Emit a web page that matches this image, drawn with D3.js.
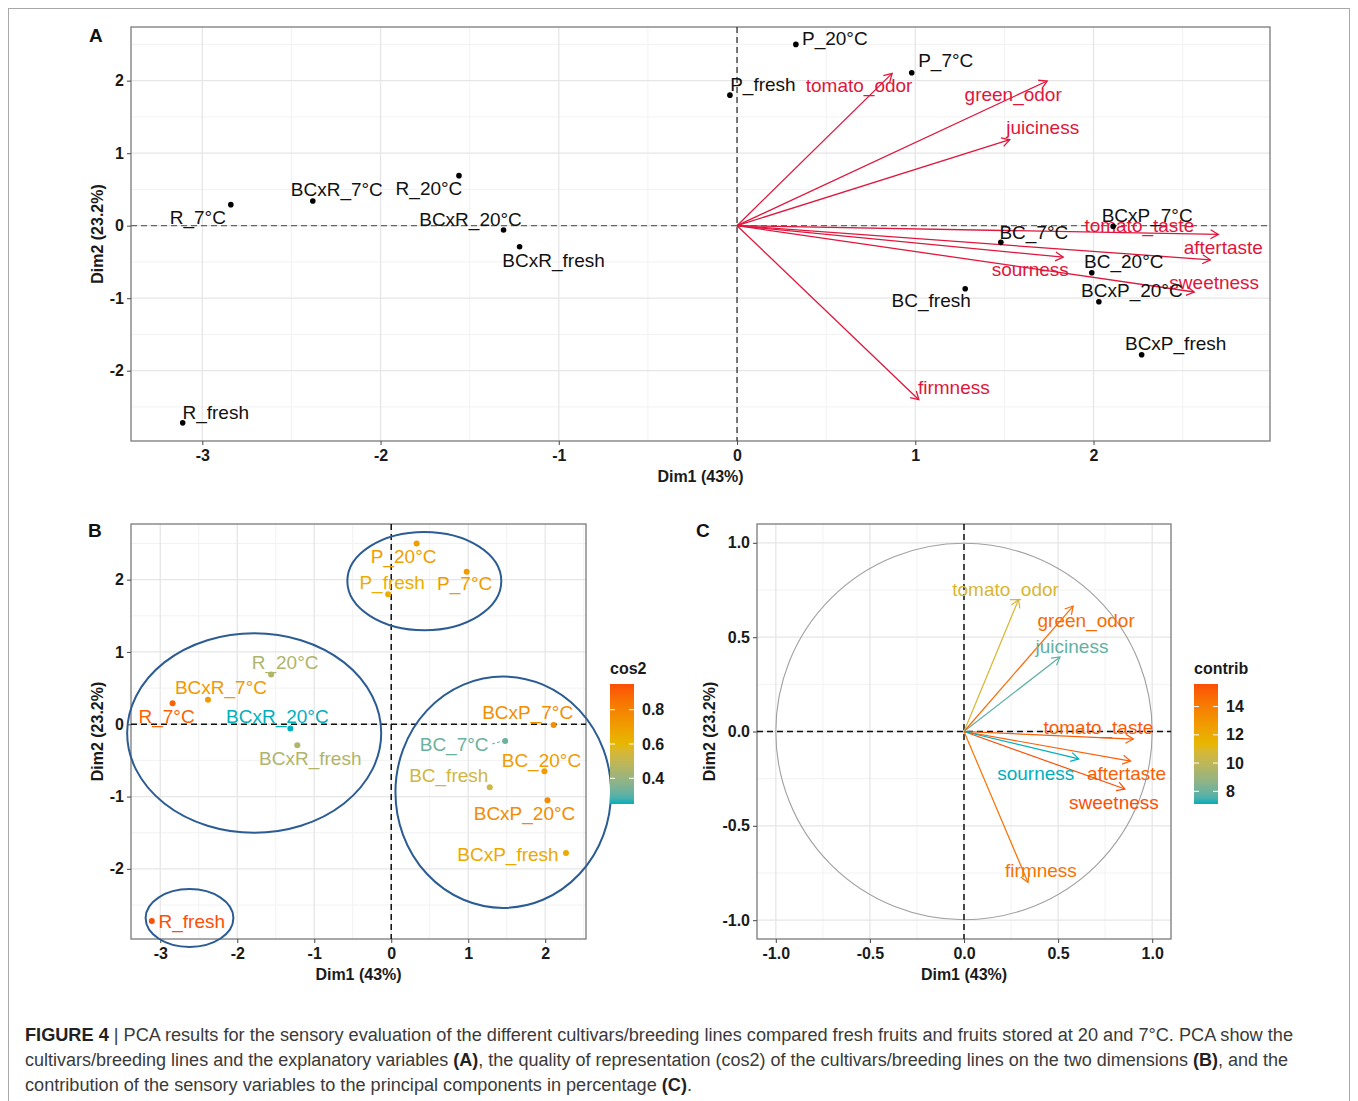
<!DOCTYPE html>
<html><head><meta charset="utf-8">
<script src="https://cdn.jsdelivr.net/npm/d3@7"></script>
<style>
body{margin:0;background:#fff;}
text{font-family:"Liberation Sans",Arial,Helvetica,sans-serif;}
</style>
</head><body>
<svg id="fig" width="1358" height="1101"></svg>
<script>
// ---------------- DATA ----------------
const individuals = ["R_fresh","R_7°C","BCxR_7°C","R_20°C","BCxR_20°C","BCxR_fresh","P_fresh","P_20°C","P_7°C","BC_7°C","BC_fresh","BC_20°C","BCxP_7°C","BCxP_20°C","BCxP_fresh"];
const indDim1 = [-3.11,-2.84,-2.38,-1.56,-1.31,-1.22,-0.04,0.33,0.98,1.48,1.28,1.99,2.11,2.03,2.27];
const indDim2 = [-2.72,0.29,0.34,0.69,-0.06,-0.29,1.80,2.50,2.11,-0.23,-0.87,-0.65,-0.01,-1.05,-1.78];
const indCos2 = [0.95,0.90,0.72,0.45,0.25,0.45,0.64,0.70,0.71,0.32,0.53,0.71,0.76,0.77,0.66];

const variables = ["tomato_odor","green_odor","juiciness","tomato_taste","aftertaste","sweetness","sourness","firmness"];
const varDim1 = [0.29,0.58,0.51,0.90,0.885,0.855,0.61,0.34];
const varDim2 = [0.70,0.665,0.395,-0.04,-0.157,-0.305,-0.145,-0.80];
const varContrib = [10.8,14.7,7.8,15.2,15.1,15.6,7.1,14.4];
const biplotArrowScale = 3.0;

// hand-drawn group ellipses (panel B), in data units
const ellipseCx = [0.43,-1.78,1.455,-2.62];
const ellipseCy = [1.98,-0.12,-0.94,-2.68];
const ellipseRx = [1.00,1.65,1.40,0.57];
const ellipseRy = [0.68,1.38,1.60,0.40];

const ticksIndX = [-3,-2,-1,0,1,2];
const ticksIndY = [-2,-1,0,1,2];
const ticksVar = [-1,-0.5,0,0.5,1];
const ticksCos2 = [0.4,0.6,0.8];
const ticksContrib = [8,10,12,14];
const gradientColors = ["#00AFBB","#E7B800","#FC4E07"];

const axisX = "Dim1 (43%)";
const axisY = "Dim2 (23.2%)";

// ---------------- LAYOUT ----------------
const svg = d3.select("#fig");
svg.append("rect").attr("x",8.5).attr("y",8.5).attr("width",1341).attr("height",1110)
  .attr("fill","none").attr("stroke","#a8a8a8").attr("stroke-width",1);

const hy = f => (d => f(d).replace("\u2212","-"));
const panelA = {x0:131,x1:1270,y0:27,y1:441,xdom:[-3.40,2.99],ydom:[-2.97,2.74],xt:ticksIndX,yt:ticksIndY,fmt:hy(d3.format("d")),minorStep:0.5};
const panelB = {x0:131,x1:586,y0:524,y1:939,xdom:[-3.38,2.53],ydom:[-2.97,2.77],xt:ticksIndX,yt:ticksIndY,fmt:hy(d3.format("d")),minorStep:0.5};
const panelC = {x0:757,x1:1171,y0:524,y1:939,xdom:[-1.1,1.1],ydom:[-1.1,1.1],xt:ticksVar,yt:ticksVar,fmt:hy(d3.format(".1f")),minorStep:0.25};

// label offsets (px, centre of text relative to mark)
const labA = {"R_fresh":[33,-11],"R_7°C":[-33,13],"BCxR_7°C":[24,-12],"R_20°C":[-30,13],"BCxR_20°C":[-33,-11],"BCxR_fresh":[34,14],
 "P_fresh":[33,-11],"P_20°C":[39,-6],"P_7°C":[34,-12],"BC_7°C":[33,-10],"BC_fresh":[-34,12],"BC_20°C":[32,-11],"BCxP_7°C":[34,-11],"BCxP_20°C":[33,-11],"BCxP_fresh":[34,-11]};
const labAvar = {"tomato_odor":[-33,12],"green_odor":[-34,13],"juiciness":[33,-12],"tomato_taste":[-79,-9],"aftertaste":[13,-12],"sweetness":[20,-10],"sourness":[-33,12],"firmness":[35,-12]};
const labB = {"R_fresh":[40,0],"R_7°C":[-6,13],"BCxR_7°C":[13,-12],"R_20°C":[14,-12],"BCxR_20°C":[-13,-12],"BCxR_fresh":[13,13],
 "P_fresh":[4,-12],"P_20°C":[-13,13],"P_7°C":[-2,12],"BC_7°C":[-51,3],"BC_fresh":[-41,-12],"BC_20°C":[-3,-11],"BCxP_7°C":[-26,-13],"BCxP_20°C":[-23,13],"BCxP_fresh":[-58,1]};
const labC = {"tomato_odor":[-13,-10],"green_odor":[13,14],"juiciness":[12,-11],"tomato_taste":[-35,-12],"aftertaste":[-4,12],"sourness":[-43,14],"sweetness":[-11,13],"firmness":[13,-12]};

const crimson = "#E0163C";
const labelSize = 19;

function colorScale(vals){
  const ext = d3.extent(vals);
  return d3.scaleLinear().domain([ext[0],(ext[0]+ext[1])/2,ext[1]]).range(gradientColors).interpolate(d3.interpolateLab);
}

function drawPanel(p){
  const g = svg.append("g");
  const x = d3.scaleLinear().domain(p.xdom).range([p.x0,p.x1]);
  const y = d3.scaleLinear().domain(p.ydom).range([p.y1,p.y0]);
  g.append("rect").attr("x",p.x0).attr("y",p.y0).attr("width",p.x1-p.x0).attr("height",p.y1-p.y0).attr("fill","#fff");
  const minorX = d3.range(Math.ceil(p.xdom[0]/p.minorStep)*p.minorStep, p.xdom[1]+1e-9, p.minorStep).filter(v=>!p.xt.some(t=>Math.abs(t-v)<1e-9));
  const minorY = d3.range(Math.ceil(p.ydom[0]/p.minorStep)*p.minorStep, p.ydom[1]+1e-9, p.minorStep).filter(v=>!p.yt.some(t=>Math.abs(t-v)<1e-9));
  g.selectAll(".mx").data(minorX).join("line").attr("x1",d=>x(d)).attr("x2",d=>x(d)).attr("y1",p.y0).attr("y2",p.y1).attr("stroke","#F2F2F2").attr("stroke-width",1);
  g.selectAll(".my").data(minorY).join("line").attr("y1",d=>y(d)).attr("y2",d=>y(d)).attr("x1",p.x0).attr("x2",p.x1).attr("stroke","#F2F2F2").attr("stroke-width",1);
  g.selectAll(".Mx").data(p.xt).join("line").attr("x1",d=>x(d)).attr("x2",d=>x(d)).attr("y1",p.y0).attr("y2",p.y1).attr("stroke","#E6E6E6").attr("stroke-width",1.3);
  g.selectAll(".My").data(p.yt).join("line").attr("y1",d=>y(d)).attr("y2",d=>y(d)).attr("x1",p.x0).attr("x2",p.x1).attr("stroke","#E6E6E6").attr("stroke-width",1.3);
  g.append("rect").attr("x",p.x0).attr("y",p.y0).attr("width",p.x1-p.x0).attr("height",p.y1-p.y0).attr("fill","none").attr("stroke","#7a7a7a").attr("stroke-width",1.3);
  const ax = g.append("g").attr("transform",`translate(0,${p.y1})`).call(d3.axisBottom(x).tickValues(p.xt).tickSize(4).tickPadding(5).tickFormat(p.fmt));
  const ay = g.append("g").attr("transform",`translate(${p.x0},0)`).call(d3.axisLeft(y).tickValues(p.yt).tickSize(4).tickPadding(3).tickFormat(p.fmt));
  [ax,ay].forEach(a=>{
    a.select(".domain").remove();
    a.selectAll(".tick line").attr("stroke","#555").attr("stroke-width",1.1);
    a.selectAll(".tick text").attr("fill","#1a1a1a").style("font-size","16px").style("font-weight","bold").style("font-family","'Liberation Sans',Arial,sans-serif");
  });
  g.append("text").attr("x",(p.x0+p.x1)/2).attr("y",p.y1+41).attr("text-anchor","middle")
    .style("font-size","16px").style("font-weight","bold").attr("fill","#1a1a1a").text(axisX);
  return {g,x,y};
}

function arrowPath(sx,sy,tx,ty,len){
  const a = Math.atan2(ty-sy,tx-sx), w = Math.PI/6;
  return `M${tx-len*Math.cos(a-w)},${ty-len*Math.sin(a-w)}L${tx},${ty}L${tx-len*Math.cos(a+w)},${ty-len*Math.sin(a+w)}`;
}

function yTitle(xpos,p){
  svg.append("text").attr("transform",`translate(${xpos},${(p.y0+p.y1)/2}) rotate(-90)`).attr("text-anchor","middle")
    .attr("dy","0.35em").style("font-size","16px").style("font-weight","bold").attr("fill","#1a1a1a").text(axisY);
}

function zeroLines(P,p,colH,colV,w){
  P.g.append("line").attr("x1",p.x0).attr("x2",p.x1).attr("y1",P.y(0)).attr("y2",P.y(0)).attr("stroke",colH).attr("stroke-width",w).attr("stroke-dasharray","6,4");
  P.g.append("line").attr("y1",p.y0).attr("y2",p.y1).attr("x1",P.x(0)).attr("x2",P.x(0)).attr("stroke",colV).attr("stroke-width",w).attr("stroke-dasharray","6,4");
}

// ---------------- PANEL A ----------------
const A = drawPanel(panelA);
yTitle(97,panelA);
zeroLines(A,panelA,"#666","#333",1.3);
variables.forEach((v,i)=>{
  const sx=A.x(0), sy=A.y(0), tx=A.x(varDim1[i]*biplotArrowScale), ty=A.y(varDim2[i]*biplotArrowScale);
  A.g.append("line").attr("x1",sx).attr("y1",sy).attr("x2",tx).attr("y2",ty).attr("stroke",crimson).attr("stroke-width",1.3);
  A.g.append("path").attr("d",arrowPath(sx,sy,tx,ty,9)).attr("fill","none").attr("stroke",crimson).attr("stroke-width",1.3);
  A.g.append("text").attr("x",tx+labAvar[v][0]).attr("y",ty+labAvar[v][1]).attr("dy","0.35em").attr("text-anchor","middle")
    .style("font-size",labelSize+"px").attr("fill",crimson).text(v);
});
individuals.forEach((n,i)=>{
  const px=A.x(indDim1[i]), py=A.y(indDim2[i]);
  A.g.append("circle").attr("cx",px).attr("cy",py).attr("r",2.8).attr("fill","#000");
  A.g.append("text").attr("x",px+labA[n][0]).attr("y",py+labA[n][1]).attr("dy","0.35em").attr("text-anchor","middle")
    .style("font-size",labelSize+"px").attr("fill","#111").text(n);
});

// ---------------- PANEL B ----------------
const B = drawPanel(panelB);
yTitle(97,panelB);
zeroLines(B,panelB,"#111","#111",1.5);
const cCos2 = colorScale(indCos2);
individuals.forEach((n,i)=>{
  const px=B.x(indDim1[i]), py=B.y(indDim2[i]), col=cCos2(indCos2[i]);
  if(n==="BC_7°C"){
    B.g.append("line").attr("x1",px+labB[n][0]+38).attr("y1",py+labB[n][1]).attr("x2",px-2).attr("y2",py).attr("stroke",col).attr("stroke-width",1).attr("stroke-dasharray","3,2");
  }
  B.g.append("circle").attr("cx",px).attr("cy",py).attr("r",3).attr("fill",col);
  B.g.append("text").attr("x",px+labB[n][0]).attr("y",py+labB[n][1]).attr("dy","0.35em").attr("text-anchor","middle")
    .style("font-size",labelSize+"px").attr("fill",col).text(n);
});
ellipseCx.forEach((cx,i)=>{
  svg.append("ellipse").attr("cx",B.x(cx)).attr("cy",B.y(ellipseCy[i]))
    .attr("rx",B.x(ellipseRx[i])-B.x(0)).attr("ry",B.y(0)-B.y(ellipseRy[i]))
    .attr("fill","none").attr("stroke","#2B5C94").attr("stroke-width",2);
});

// ---------------- PANEL C ----------------
const C = drawPanel(panelC);
yTitle(709,panelC);
C.g.append("circle").attr("cx",C.x(0)).attr("cy",C.y(0)).attr("r",C.x(1)-C.x(0)).attr("fill","none").attr("stroke","#a0a0a0").attr("stroke-width",1.1);
zeroLines(C,panelC,"#111","#111",1.5);
const cContrib = colorScale(varContrib);
variables.forEach((v,i)=>{
  const col=cContrib(varContrib[i]);
  const sx=C.x(0), sy=C.y(0), tx=C.x(varDim1[i]), ty=C.y(varDim2[i]);
  C.g.append("line").attr("x1",sx).attr("y1",sy).attr("x2",tx).attr("y2",ty).attr("stroke",col).attr("stroke-width",1.2);
  C.g.append("path").attr("d",arrowPath(sx,sy,tx,ty,9)).attr("fill","none").attr("stroke",col).attr("stroke-width",1.2);
  C.g.append("text").attr("x",tx+labC[v][0]).attr("y",ty+labC[v][1]).attr("dy","0.35em").attr("text-anchor","middle")
    .style("font-size",labelSize+"px").attr("fill",col).text(v);
});

// ---------------- COLOURBARS ----------------
function colorbar(id,x0,title,vals,ticks,fmt){
  const sc = colorScale(vals), ext = d3.extent(vals);
  const top=684, bot=804, w=24;
  const grad = svg.append("defs").append("linearGradient").attr("id",id).attr("x1",0).attr("y1",1).attr("x2",0).attr("y2",0);
  d3.range(0,1.0001,0.05).forEach(t=>grad.append("stop").attr("offset",t).attr("stop-color",sc(ext[0]+t*(ext[1]-ext[0]))));
  svg.append("rect").attr("x",x0).attr("y",top).attr("width",w).attr("height",bot-top).attr("fill",`url(#${id})`);
  const ys = d3.scaleLinear().domain(ext).range([bot,top]);
  ticks.forEach(t=>{
    svg.append("line").attr("x1",x0).attr("x2",x0+5).attr("y1",ys(t)).attr("y2",ys(t)).attr("stroke","#fff").attr("stroke-width",1);
    svg.append("line").attr("x1",x0+w-5).attr("x2",x0+w).attr("y1",ys(t)).attr("y2",ys(t)).attr("stroke","#fff").attr("stroke-width",1);
    svg.append("text").attr("x",x0+w+8).attr("y",ys(t)).attr("dy","0.35em").style("font-size","16px").style("font-weight","bold").attr("fill","#1a1a1a").text(fmt(t));
  });
  svg.append("text").attr("x",x0).attr("y",top-10).style("font-size","16px").style("font-weight","bold").attr("fill","#1a1a1a").text(title);
}
colorbar("gcos2",610,"cos2",indCos2,ticksCos2,d3.format(".1f"));
colorbar("gcontrib",1194,"contrib",varContrib,ticksContrib,d3.format("d"));

// ---------------- PANEL LETTERS ----------------
[["A",89,42],["B",88,537],["C",696,537]].forEach(([t,x,y])=>{
  svg.append("text").attr("x",x).attr("y",y).style("font-size","19px").style("font-weight","bold").attr("fill","#111").text(t);
});

// ---------------- CAPTION ----------------
const captionLines = [
  [["FIGURE 4",true],[" | PCA results for the sensory evaluation of the different cultivars/breeding lines compared fresh fruits and fruits stored at 20 and 7°C. PCA show the",false]],
  [["cultivars/breeding lines and the explanatory variables ",false],["(A)",true],[", the quality of representation (cos2) of the cultivars/breeding lines on the two dimensions ",false],["(B)",true],[", and the",false]],
  [["contribution of the sensory variables to the principal components in percentage ",false],["(C)",true],[".",false]]
];
const captionWidths = [1268,1263,667];
captionLines.forEach((line,i)=>{
  const t = svg.append("text").attr("x",25).attr("y",1041+i*25).style("font-size","18px").attr("fill","#3a3a3a")
    .attr("textLength",captionWidths[i]).attr("lengthAdjust","spacingAndGlyphs");
  line.forEach(([s,b])=>t.append("tspan").style("font-weight",b?"bold":"normal").attr("fill",b?"#222":"#3a3a3a").text(s));
});
</script>
</body></html>
